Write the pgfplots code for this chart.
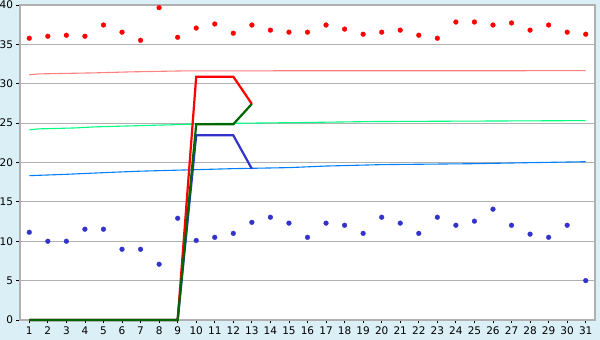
\documentclass[border=0pt]{standalone}
\usepackage{pgfplots}
\pgfplotsset{compat=1.18}
\usepackage{fontspec}
\setmainfont{DejaVu Sans}
\definecolor{bgblue}{RGB}{218,239,246}
\definecolor{gridgray}{RGB}{176,176,176}
\definecolor{pinkline}{RGB}{255,128,128}
\definecolor{greenline}{RGB}{0,255,128}
\definecolor{blueline}{RGB}{0,128,255}
\definecolor{ptblue}{RGB}{51,51,204}
\definecolor{dkgreen}{RGB}{0,102,0}
\begin{document}
\begin{tikzpicture}
\fill[bgblue] (-20pt,-20pt) rectangle (580pt,320pt);
\useasboundingbox (-20pt,-20pt) rectangle (580pt,320pt);
\begin{axis}[
  at={(0pt,0pt)}, anchor=south west,
  scale only axis, width=575pt, height=315pt,
  xmin=0.5, xmax=31.5, ymin=0, ymax=40,
  xtick={1,...,31}, ytick={0,5,...,40},
  axis background/.style={fill=white},
  ymajorgrids, grid style={gridgray, line width=1pt},
  axis line style={gridgray, line width=1.2pt},
  tick align=outside, major tick length=3.5pt,
  tick style={black, line width=0.8pt},
  xtick pos=bottom, ytick pos=left,
  /pgf/number format/assume math mode=true,
  tick label style={font=\fontsize{10.5}{12}\selectfont},
  clip=false,
]
% thin trend lines
\addplot[pinkline, line width=1.1pt] coordinates {(1,31.13) (1.5,31.25) (4.5,31.38) (6.5,31.51) (9.5,31.64) (31,31.66)};
\addplot[greenline, line width=1.1pt] coordinates {(1,24.14) (1.5,24.27) (3.5,24.39) (4.5,24.52) (6.5,24.65) (8.5,24.78) (11,24.95) (15.5,25.07) (19.5,25.2) (31,25.32)};
\addplot[blueline, line width=1.1pt] coordinates {(1,18.33) (3,18.5) (5,18.71) (7,18.9) (10,19.09) (12,19.22) (15,19.35) (17,19.55) (20,19.73) (25,19.85) (28,19.98) (31,20.1)};
% scatter
\addplot[only marks, red, mark=*, mark size=2.4pt, mark options={draw=red, fill=red, line width=0.3pt}] coordinates {
(1,35.78) (2,36.03) (3,36.16) (4,36.03) (5,37.46) (6,36.55) (7,35.52) (8,39.66) (9,35.9) (10,37.07)
(11,37.59) (12,36.42) (13,37.46) (14,36.81) (15,36.55) (16,36.55) (17,37.46) (18,36.94) (19,36.29) (20,36.55)
(21,36.81) (22,36.16) (23,35.78) (24,37.84) (25,37.84) (26,37.46) (27,37.72) (28,36.81) (29,37.46) (30,36.55) (31,36.29)};
\addplot[only marks, ptblue, mark=*, mark size=2.4pt, mark options={draw=ptblue, fill=ptblue, line width=0.3pt}] coordinates {
(1,11.14) (2,10) (3,10) (4,11.53) (5,11.53) (6,8.98) (7,8.98) (8,7.08) (9,12.92) (10,10.1)
(11,10.5) (12,11.0) (13,12.4) (14,13.05) (15,12.3) (16,10.5) (17,12.3) (18,12.03) (19,11.0) (20,13.05)
(21,12.3) (22,11.0) (23,13.05) (24,12.03) (25,12.55) (26,14.07) (27,12.03) (28,10.9) (29,10.5) (30,12.03) (31,5.0)};
% thick lines
\addplot[ptblue, line width=2.2pt] coordinates {(1,0) (2,0) (3,0) (4,0) (5,0) (6,0) (7,0) (8,0) (9,0) (10,23.45) (11,23.45) (12,23.45) (13,19.2)};
\addplot[red, line width=2.2pt] coordinates {(1,0) (2,0) (3,0) (4,0) (5,0) (6,0) (7,0) (8,0) (9,0) (10,30.9) (11,30.9) (12,30.9) (13,27.44)};
\addplot[dkgreen, line width=2.2pt] coordinates {(1,0) (2,0) (3,0) (4,0) (5,0) (6,0) (7,0) (8,0) (9,0) (10,24.86) (11,24.86) (12,24.86) (13,27.44)};
\end{axis}
\end{tikzpicture}
\end{document}
